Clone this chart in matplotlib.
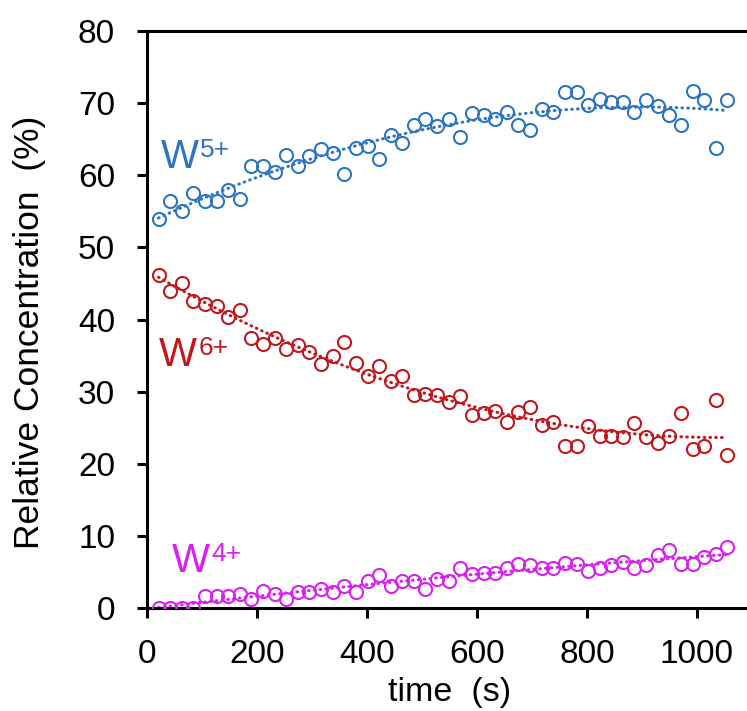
import numpy as np
import matplotlib
matplotlib.use("Agg")
import matplotlib.pyplot as plt

plt.rcParams['font.family'] = ['Liberation Sans', 'DejaVu Sans']

time_s = [21, 42, 63, 84, 105, 127, 148, 169, 190, 211,
          232, 253, 274, 295, 316, 338, 359, 380, 401, 422,
          443, 464, 485, 506, 528, 549, 570, 591, 612, 633,
          654, 675, 696, 718, 739, 760, 781, 802, 823, 844,
          865, 886, 908, 929, 950, 971, 992, 1013, 1034, 1055]

w5 = [53.9, 56.4, 55.0, 57.5, 56.4, 56.4, 57.9, 56.7, 61.3, 61.3,
      60.4, 62.8, 61.3, 62.6, 63.6, 63.1, 60.2, 63.8, 64.1, 62.2,
      65.6, 64.5, 66.9, 67.8, 66.8, 67.8, 65.3, 68.6, 68.4, 67.8,
      68.8, 66.9, 66.3, 69.2, 68.8, 71.5, 71.6, 69.8, 70.6, 70.2,
      70.1, 68.8, 70.5, 69.6, 68.4, 66.9, 71.7, 70.4, 63.8, 70.4]

w6 = [46.2, 43.9, 45.1, 42.5, 42.1, 41.9, 40.4, 41.3, 37.5, 36.6,
      37.5, 35.9, 36.5, 35.5, 33.8, 35.0, 36.9, 34.0, 32.2, 33.5,
      31.5, 32.1, 29.5, 29.7, 29.5, 28.6, 29.4, 26.8, 27.0, 27.3,
      25.8, 27.2, 27.9, 25.4, 25.8, 22.5, 22.5, 25.2, 23.8, 23.8,
      23.7, 25.6, 23.7, 22.9, 23.9, 27.1, 22.1, 22.5, 28.8, 21.2]

w4 = [0.0, 0.0, 0.0, 0.0, 1.6, 1.7, 1.7, 2.0, 1.2, 2.3,
      1.9, 1.2, 2.2, 2.2, 2.7, 2.2, 3.0, 2.2, 3.8, 4.6,
      3.0, 3.7, 3.8, 2.6, 4.0, 3.8, 5.6, 4.7, 4.8, 4.9,
      5.6, 6.1, 6.0, 5.6, 5.6, 6.3, 6.1, 5.1, 5.6, 6.0,
      6.4, 5.6, 6.0, 7.4, 8.0, 6.1, 6.1, 7.1, 7.5, 8.4]

series_sup = ["5+", "6+", "4+"]
colors = ["#2d74c3", "#c2181d", "#d920f2"]
label_pos = [(25, 61.0), (22, 33.6), (45, 5.0)]
x_ticks = [0, 200, 400, 600, 800, 1000]
y_ticks = [0, 10, 20, 30, 40, 50, 60, 70, 80]

fig = plt.figure(figsize=(7.47, 7.11), dpi=100)
ax = fig.add_axes([147/747, (711-608)/711, 1 - 147/747, (608-31)/711])

t = np.array(time_s, dtype=float)
for vals, col in zip([w5, w6, w4], colors):
    v = np.array(vals)
    ax.plot(t, v, linestyle='none', marker='o', markersize=9.4,
            markerfacecolor='none', markeredgecolor=col, markeredgewidth=1.5,
            zorder=3)
    coef = np.polyfit(t, v, 2)
    tt = np.linspace(t[0], t[-1], 300)
    ax.plot(tt, np.polyval(coef, tt), color=col, linestyle=(0, (0.2, 1.7)),
            linewidth=2.2, dash_capstyle='round', zorder=2)

ax.set_xlim(0, 1091)
ax.set_ylim(0, 80)
ax.set_xticks(x_ticks)
ax.set_yticks(y_ticks)
ax.spines['right'].set_visible(False)
for s in ['top', 'left', 'bottom']:
    ax.spines[s].set_linewidth(2.2)
ax.tick_params(axis='both', direction='out', length=7, width=2.2,
               labelsize=24)
ax.tick_params(axis='y', pad=16)
ax.tick_params(axis='x', pad=15)
ax.set_xlabel("time  (s)", fontsize=24.5)
ax.xaxis.set_label_coords(0.505, (711 - 701 - 103) / 577)
ax.xaxis.label.set_va('baseline')
ax.set_ylabel("Relative Concentration  (%)", fontsize=25.5)
ax.yaxis.set_label_coords((30 - 147) / 600, 0.478)
ax.yaxis.label.set_va('center')

for sup, (lx, ly), col in zip(series_sup, label_pos, colors):
    tw = ax.text(lx, ly, "W", fontsize=29, color=col, ha='left', va='baseline')
    ax.annotate(sup, xy=(1.0, 1.0), xycoords=tw, xytext=(1, 0),
                textcoords='offset points', fontsize=19, color=col,
                ha='left', va='top')

fig.savefig("out.png", dpi=100)
